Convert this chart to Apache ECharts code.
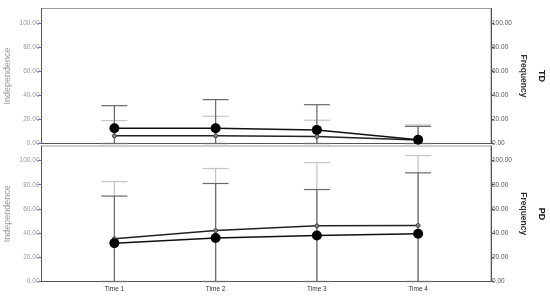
<!DOCTYPE html>
<html>
<head>
<meta charset="utf-8">
<script src="https://cdn.jsdelivr.net/npm/echarts@6/dist/echarts.min.js"></script>
<style>
  html, body { margin: 0; padding: 0; background: #fff; }
  #chart { width: 550px; height: 298px; }
</style>
</head>
<body>
<div id="chart"></div>
<script>
    // categories and tick labels
    var timePos = [1, 2, 3, 4];
    var timeNames = ['Time 1', 'Time 2', 'Time 3', 'Time 4'];
    var yTicks = [0, 20, 40, 60, 80, 100];
    var panelNames = ['TD', 'PD'];

    // TD panel: big black markers (dark bars) and small grey markers (light bars)
    var tdMeanA = [12.7, 12.7, 11.3, 3.1];
    var tdHighA = [31.4, 36.4, 32.2, 14.2];
    var tdMeanB = [6.4, 6.4, 5.8, 3.0];
    var tdHighB = [19.0, 22.6, 19.3, 15.4];

    // PD panel
    var pdMeanA = [31.7, 35.9, 38.0, 39.4];
    var pdHighA = [70.6, 81.0, 76.0, 89.8];
    var pdMeanB = [35.3, 42.1, 46.0, 46.3];
    var pdHighB = [82.6, 93.4, 98.3, 104.1];

    // lower ends of the bars (clipped at the axis)
    var lowAll = [0, 0, 0, 0];

    var chart = echarts.init(document.getElementById('chart'));

    function pairs(means) {
        return timePos.map(function (t, i) { return [t, means[i]]; });
    }
    function bars(lows, highs) {
        return timePos.map(function (t, i) { return [t, lows[i], highs[i]]; });
    }
    function errSeries(idx, data, color) {
        return {
            type: 'custom',
            xAxisIndex: idx,
            yAxisIndex: idx * 2,
            z: 1,
            data: data,
            renderItem: function (params, api) {
                var lo = api.coord([api.value(0), api.value(1)]);
                var hi = api.coord([api.value(0), api.value(2)]);
                var w = 13;
                var st = { stroke: color, lineWidth: 1.2 };
                return {
                    type: 'group',
                    children: [
                        { type: 'line', shape: { x1: lo[0], y1: lo[1], x2: hi[0], y2: hi[1] }, style: st },
                        { type: 'line', shape: { x1: hi[0] - w, y1: hi[1], x2: hi[0] + w, y2: hi[1] }, style: st },
                        { type: 'line', shape: { x1: lo[0] - w, y1: lo[1], x2: lo[0] + w, y2: lo[1] }, style: st }
                    ]
                };
            }
        };
    }
    function lineA(idx, means) {
        return {
            type: 'line', xAxisIndex: idx, yAxisIndex: idx * 2, z: 5,
            data: pairs(means),
            symbol: 'circle', symbolSize: 10,
            itemStyle: { color: '#000' },
            lineStyle: { color: '#111', width: 1.5 }
        };
    }
    function lineB(idx, means) {
        return {
            type: 'line', xAxisIndex: idx, yAxisIndex: idx * 2, z: 4,
            data: pairs(means),
            symbol: 'circle', symbolSize: 4,
            itemStyle: { color: '#888', borderColor: '#444', borderWidth: 1 },
            lineStyle: { color: '#222', width: 1.5 }
        };
    }

    var grids = [
        { left: 41.5, right: 59, top: 8.5, height: 135, show: true, borderColor: '#999', borderWidth: 1, outerBoundsMode: 'none', containLabel: false },
        { left: 41.5, right: 59, top: 146, height: 135.5, show: true, borderColor: '#999', borderWidth: 1, outerBoundsMode: 'none', containLabel: false }
    ];

    var xAxes = [0, 1].map(function (i) {
        return {
            type: 'value', gridIndex: i, min: 0.28, max: 4.72,
            axisLine: { show: true, onZero: false, lineStyle: { color: '#555' } },
            axisTick: { show: false },
            splitLine: { show: false },
            axisLabel: {
                show: i === 1,
                customValues: timePos,
                formatter: function (v) { return timeNames[timePos.indexOf(v)] || ''; },
                fontFamily: 'Liberation Sans', fontSize: 6.5, color: '#333', margin: 4
            }
        };
    });

    var yAxes = [];
    [0, 1].forEach(function (i) {
        yAxes.push({
            type: 'value', gridIndex: i, position: 'left', min: 0, max: 112,
            name: 'Independence', nameLocation: 'middle', nameGap: 29, nameMoveOverlap: false,
            nameTextStyle: { fontFamily: 'Liberation Sans', fontSize: 9, color: '#999' },
            axisLine: { show: true, lineStyle: { color: '#555' } },
            axisTick: { show: true, length: 4, customValues: yTicks, lineStyle: { color: '#6a6ac4' } },
            splitLine: { show: false },
            axisLabel: {
                customValues: yTicks, margin: 2,
                formatter: function (v) { return v.toFixed(2); },
                fontFamily: 'Liberation Sans', fontSize: 6.5, color: '#999'
            }
        });
        yAxes.push({
            type: 'value', gridIndex: i, position: 'right', min: 0, max: 112,
            name: 'Frequency', nameLocation: 'middle', nameGap: 28, nameRotate: -90, nameMoveOverlap: false,
            nameTextStyle: { fontFamily: 'Liberation Sans', fontSize: 8.5, fontWeight: 'bold', color: '#333' },
            axisLine: { show: true, lineStyle: { color: '#555' } },
            axisTick: { show: true, length: 3, customValues: yTicks, lineStyle: { color: '#555' } },
            splitLine: { show: false },
            axisLabel: {
                customValues: yTicks, margin: 1,
                formatter: function (v) { return v.toFixed(2); },
                fontFamily: 'Liberation Sans', fontSize: 6.5, color: '#555'
            }
        });
    });

    var option = {
        animation: false,
        backgroundColor: '#fff',
        grid: grids,
        xAxis: xAxes,
        yAxis: yAxes,
        graphic: [
            { type: 'text', x: 541, y: 76, rotation: -Math.PI / 2,
              style: { text: panelNames[0], font: 'bold 9px Liberation Sans', fill: '#222', align: 'center', verticalAlign: 'middle' } },
            { type: 'text', x: 541, y: 214, rotation: -Math.PI / 2,
              style: { text: panelNames[1], font: 'bold 9px Liberation Sans', fill: '#222', align: 'center', verticalAlign: 'middle' } }
        ],
        series: [
            errSeries(0, bars(lowAll, tdHighB), '#c4c4c4'),
            errSeries(0, bars(lowAll, tdHighA), '#6a6a6a'),
            lineB(0, tdMeanB),
            lineA(0, tdMeanA),
            errSeries(1, bars(lowAll, pdHighB), '#c4c4c4'),
            errSeries(1, bars(lowAll, pdHighA), '#6a6a6a'),
            lineB(1, pdMeanB),
            lineA(1, pdMeanA)
        ]
    };
    chart.setOption(option);
</script>
</body>
</html>
